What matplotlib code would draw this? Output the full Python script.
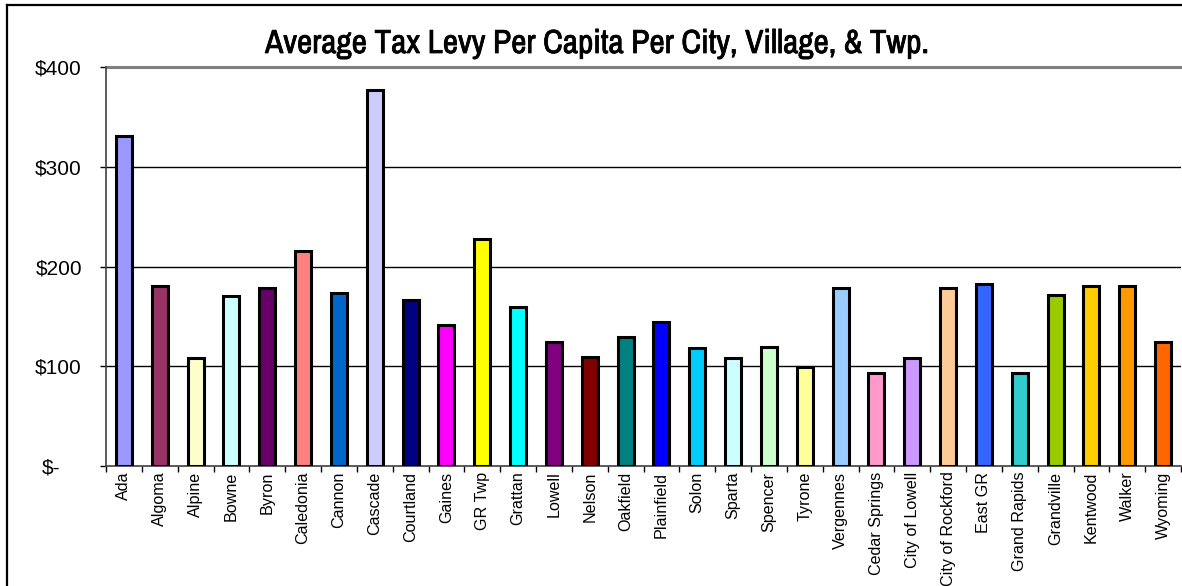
import matplotlib
matplotlib.use("Agg")
import matplotlib.pyplot as plt
import matplotlib.patheffects as pe
import numpy as np
from matplotlib import font_manager
from matplotlib.lines import Line2D
from matplotlib.ticker import FixedLocator, FuncFormatter

# per capita tax levy, one bar per municipality
places = ["Ada", "Algoma", "Alpine", "Bowne", "Byron", "Caledonia", "Cannon",
          "Cascade", "Courtland", "Gaines", "GR Twp", "Grattan", "Lowell",
          "Nelson", "Oakfield", "Plainfield", "Solon", "Sparta", "Spencer",
          "Tyrone", "Vergennes", "Cedar Springs", "City of Lowell",
          "City of Rockford", "East GR", "Grand Rapids", "Grandville",
          "Kentwood", "Walker", "Wyoming"]
levy = [331, 180, 108, 170, 178, 216, 173, 377, 166, 141, 228, 159, 124,
        109, 129, 144, 118, 108, 119, 99, 178, 93, 108, 178, 182, 93, 171,
        180, 180, 124]
colors = ["#9999FF", "#993366", "#FFFFCC", "#CCFFFF", "#660066", "#FF8080",
          "#0066CC", "#CCCCFF", "#000080", "#FF00FF", "#FFFF00", "#00FFFF",
          "#800080", "#800000", "#008080", "#0000FF", "#00CCFF", "#CCFFFF",
          "#CCFFCC", "#FFFF99", "#99CCFF", "#FF99CC", "#CC99FF", "#FFCC99",
          "#3366FF", "#33CCCC", "#99CC00", "#FFCC00", "#FF9900", "#FF6600"]
yticks = [0, 100, 200, 300, 400]

# look for a narrow sans for the title, else plain Liberation Sans
fonts = font_manager.fontManager.ttflist
narrow = [f.name for f in fonts if "Narrow" in f.name or "Condensed" in f.name]
if "Liberation Sans Narrow" in narrow:
    title_font = "Liberation Sans Narrow"
else:
    title_font = narrow[0] if narrow else "Liberation Sans"
has_bold = any(f.name == title_font and f.weight in (700, "bold") for f in fonts)

W, H = 1182, 586
fig = plt.figure(figsize=(W / 100, H / 100), dpi=100)
ax = fig.add_axes([106 / W, 1 - 466 / H, 1075 / W, 399 / H])

# chart area frame: left and top edges
fx = 6.5 / W
fy = 1 - 4.5 / H
fig.lines.append(Line2D([fx, fx], [0, fy], transform=fig.transFigure,
                        color="black", linewidth=1.6))
fig.lines.append(Line2D([fx, 1], [fy, fy], transform=fig.transFigure,
                        color="black", linewidth=1.6))

x = np.arange(len(places))
ax.set_axisbelow(True)
ax.bar(x, levy, width=0.45, color=colors, edgecolor="black", linewidth=2.2,
       zorder=3)

ax.set_xlim(-0.5, len(places) - 0.5)
ax.set_ylim(0, 400)
for v in yticks[1:-1]:
    ax.axhline(v, color="black", linewidth=1.0, zorder=1)
ax.axhline(400, color="#808080", linewidth=2.2, zorder=1, clip_on=False)

for side in ("top", "right"):
    ax.spines[side].set_visible(False)
for side in ("left", "bottom"):
    ax.spines[side].set_linewidth(1.2)
    ax.spines[side].set_color("#404040")

ax.set_yticks(yticks)
ax.yaxis.set_major_formatter(FuncFormatter(
    lambda v, _: "$-" if v == 0 else f"${int(v)}"))
ax.tick_params(axis="y", length=4.3, width=1.0, pad=13, labelsize=15)
for lab in ax.get_yticklabels():
    lab.set_fontfamily("Liberation Sans")
# the zero label sits further left, accounting style
ax.yaxis.get_major_ticks()[0].label1.set_x(-22 / 1075)

ax.set_xticks(x)
ax.set_xticklabels(places, rotation=90, fontsize=11.6,
                   fontfamily="Liberation Sans", va="top")
ax.xaxis.set_minor_locator(FixedLocator(np.arange(-0.5, len(places), 1)))
ax.tick_params(axis="x", which="major", length=0, pad=4)
ax.tick_params(axis="x", which="minor", length=4.3, width=1.0)

title = fig.text(597 / W, 1 - 44 / H,
                 "Average Tax Levy Per Capita Per City, Village, & Twp.",
                 ha="center", va="center", fontsize=24 if narrow else 18,
                 fontweight="bold", fontfamily=[title_font, "DejaVu Sans"])
if not has_bold:
    # no bold face installed: thicken the strokes a little
    title.set_path_effects([pe.withStroke(linewidth=0.55, foreground="black")])

fig.savefig("out.png", dpi=100)
